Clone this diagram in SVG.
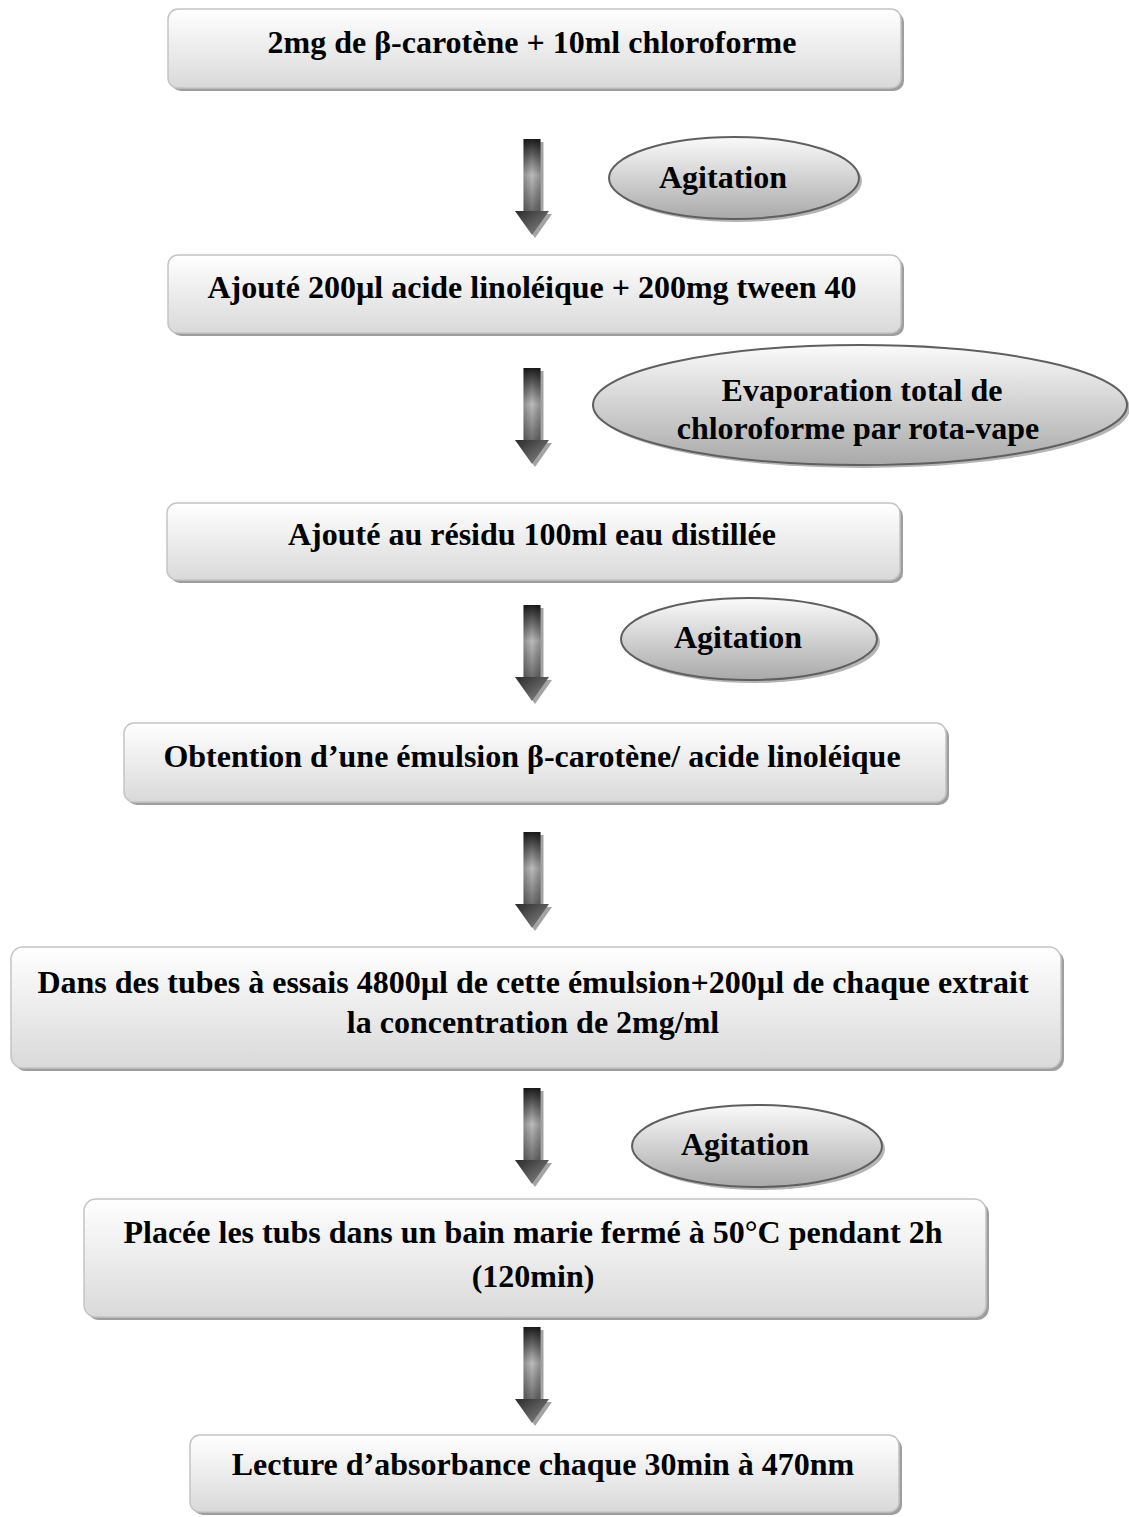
<svg xmlns="http://www.w3.org/2000/svg" width="1129" height="1517" viewBox="0 0 1129 1517">
<defs>
  <linearGradient id="boxGrad" x1="0" y1="0" x2="0" y2="1">
    <stop offset="0" stop-color="#ffffff"/>
    <stop offset="1" stop-color="#d9d9d9"/>
  </linearGradient>
  <linearGradient id="ellGrad" x1="0" y1="0" x2="0" y2="1">
    <stop offset="0" stop-color="#fafafa"/>
    <stop offset="1" stop-color="#a9a9a9"/>
  </linearGradient>
  <linearGradient id="shaftGrad" x1="0" y1="0" x2="0" y2="1">
    <stop offset="0" stop-color="#1c1c1c"/>
    <stop offset="0.5" stop-color="#bcbcbc"/>
    <stop offset="1" stop-color="#6e6e6e"/>
  </linearGradient>
  <linearGradient id="shaftSide" x1="0" y1="0" x2="1" y2="0">
    <stop offset="0" stop-color="#000" stop-opacity="0.25"/>
    <stop offset="0.5" stop-color="#000" stop-opacity="0"/>
    <stop offset="1" stop-color="#000" stop-opacity="0.25"/>
  </linearGradient>
  <linearGradient id="headGrad" x1="0" y1="0" x2="1" y2="1">
    <stop offset="0" stop-color="#2a2a2a"/>
    <stop offset="1" stop-color="#8a8a8a"/>
  </linearGradient>
  <g id="arrow">
    <g transform="translate(3,3)" fill="#a3a3a3">
      <rect x="-8.5" y="0" width="17" height="72"/>
      <polygon points="-17,72 17,72 0,96"/>
    </g>
    <rect x="-8.5" y="0" width="17" height="72" fill="url(#shaftGrad)"/>
    <rect x="-8.5" y="0" width="17" height="72" fill="url(#shaftSide)"/>
    <polygon points="-17,72 17,72 0,96" fill="url(#headGrad)"/>
  </g>
</defs>
<style>
  .box { fill: url(#boxGrad); stroke: #c4c4c4; stroke-width: 1.5; }
  .shadow { fill: #9e9e9e; }
  .ell { fill: url(#ellGrad); stroke: #5f5f5f; stroke-width: 2; }
  .eshadow { fill: #b5b5b5; }
  text { font-family: "Liberation Serif", "Times New Roman", serif; font-weight: bold; font-size: 32px; fill: #000; text-anchor: middle; }
</style>

<g id="connectors">
  <use href="#arrow" x="532" y="139"/>
  <use href="#arrow" x="532" y="368"/>
  <use href="#arrow" x="532" y="605"/>
  <use href="#arrow" x="532" y="832"/>
  <use href="#arrow" x="532" y="1088"/>
  <use href="#arrow" x="532" y="1327"/>
</g>

<g id="n1">
  <rect class="shadow" x="171" y="12" width="733" height="79" rx="10"/>
  <rect class="box" x="168" y="9" width="733" height="79" rx="10"/>
  <text x="532" y="53">2mg de β-carotène + 10ml chloroforme</text>
</g>

<g id="e1">
  <ellipse class="eshadow" cx="737" cy="181" rx="125" ry="41"/>
  <ellipse class="ell" cx="734" cy="178" rx="125" ry="41"/>
  <text x="723" y="188">Agitation</text>
</g>

<g id="n2">
  <rect class="shadow" x="171" y="258" width="733" height="78" rx="10"/>
  <rect class="box" x="168" y="255" width="733" height="78" rx="10"/>
  <text x="532" y="298">Ajouté 200µl acide linoléique + 200mg tween 40</text>
</g>

<g id="e2">
  <ellipse class="eshadow" cx="863" cy="408" rx="267" ry="60"/>
  <ellipse class="ell" cx="860" cy="405" rx="267" ry="60"/>
  <text x="862" y="401">Evaporation total de</text>
  <text x="858" y="439">chloroforme par rota-vape</text>
</g>

<g id="n3">
  <rect class="shadow" x="170" y="506" width="733" height="77" rx="10"/>
  <rect class="box" x="167" y="503" width="733" height="77" rx="10"/>
  <text x="532" y="545">Ajouté au résidu 100ml eau distillée</text>
</g>

<g id="e3">
  <ellipse class="eshadow" cx="752" cy="642" rx="128" ry="41"/>
  <ellipse class="ell" cx="749" cy="639" rx="128" ry="41"/>
  <text x="738" y="648">Agitation</text>
</g>

<g id="n4">
  <rect class="shadow" x="127" y="726" width="822" height="79" rx="10"/>
  <rect class="box" x="124" y="723" width="822" height="79" rx="10"/>
  <text x="532" y="767">Obtention d’une émulsion β-carotène/ acide linoléique</text>
</g>

<g id="n5">
  <rect class="shadow" x="14" y="950" width="1050" height="121" rx="12"/>
  <rect class="box" x="11" y="947" width="1050" height="121" rx="12"/>
  <text x="533" y="993">Dans des tubes à essais 4800µl de cette émulsion+200µl de chaque extrait</text>
  <text x="533" y="1033">la concentration de 2mg/ml</text>
</g>

<g id="e4">
  <ellipse class="eshadow" cx="760" cy="1149" rx="125" ry="41"/>
  <ellipse class="ell" cx="757" cy="1146" rx="125" ry="41"/>
  <text x="745" y="1155">Agitation</text>
</g>

<g id="n6">
  <rect class="shadow" x="87" y="1202" width="902" height="118" rx="12"/>
  <rect class="box" x="84" y="1199" width="902" height="118" rx="12"/>
  <text x="533" y="1243">Placée les tubs dans un bain marie fermé à 50°C pendant 2h</text>
  <text x="533" y="1287">(120min)</text>
</g>

<g id="n7">
  <rect class="shadow" x="193" y="1438" width="709" height="77" rx="10"/>
  <rect class="box" x="190" y="1435" width="709" height="77" rx="10"/>
  <text x="543" y="1475">Lecture d’absorbance chaque 30min à 470nm</text>
</g>
</svg>
